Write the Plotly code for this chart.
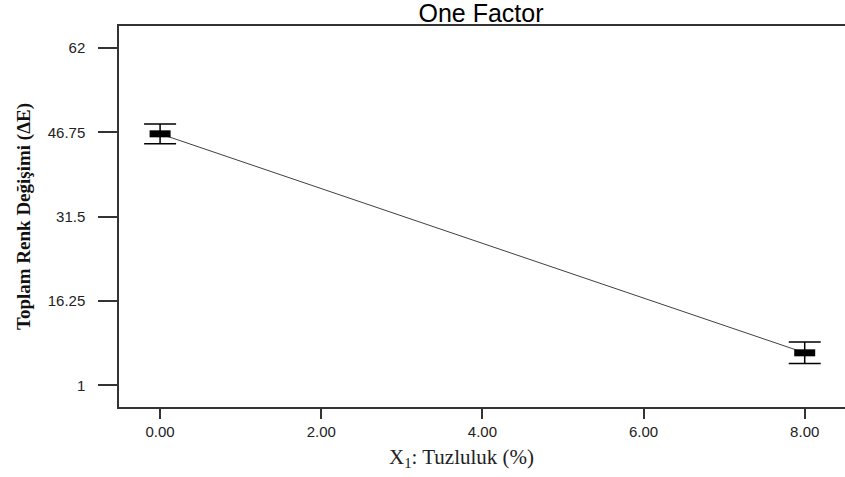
import plotly.graph_objects as go

# Data
x_vals = [0, 8]
y_vals = [46.5, 6.9]
y_err = [1.8, 1.95]
x_ticks = [0, 2, 4, 6, 8]
x_tick_labels = ["0.00", "2.00", "4.00", "6.00", "8.00"]
y_ticks = [1, 16.25, 31.5, 46.75, 62]
y_tick_labels = ["1", "16.25", "31.5", "46.75", "62"]

fig = go.Figure()
# connecting line
fig.add_trace(go.Scatter(x=x_vals, y=y_vals, mode="lines",
                         line=dict(color="#404040", width=1), hoverinfo="skip",
                         showlegend=False))
# error bars + rectangle markers
fig.add_trace(go.Scatter(x=x_vals, y=y_vals, mode="markers",
                         marker=dict(symbol="line-ew", size=15,
                                     line=dict(color="black", width=7), color="black"),
                         error_y=dict(type="data", array=y_err, visible=True,
                                      color="black", thickness=1.5, width=16),
                         showlegend=False))

fig.update_layout(
    width=845, height=477,
    margin=dict(l=119, r=0, t=26, b=70, autoexpand=False),
    paper_bgcolor="white", plot_bgcolor="white",
    title=dict(text="One Factor", x=481 / 845, xanchor="center", y=1 - 13 / 477, yanchor="middle",
               font=dict(family="Liberation Sans, Arial", size=25, color="black")),
    font=dict(family="Liberation Sans, Arial", size=15, color="#222222"),
    xaxis=dict(range=[-0.51, 8.5], tickvals=x_ticks, ticktext=x_tick_labels,
               showgrid=False, zeroline=False, showline=True, linecolor="#333333",
               linewidth=1.5, mirror=True, ticks="outside", ticklen=10,
               tickcolor="#333333", tickwidth=1.5, automargin=False,
               ticklabelstandoff=0),
    yaxis=dict(range=[-2.9, 66.0], tickvals=y_ticks, ticktext=y_tick_labels,
               showgrid=False, zeroline=False, showline=True, linecolor="#333333",
               linewidth=1.5, ticks="outside", ticklen=19, tickcolor="#333333",
               tickwidth=1.5, automargin=False, ticklabelstandoff=10),
    annotations=[
        dict(text="X<sub>1</sub>: Tuzluluk (%)", xref="paper", yref="paper",
             x=(461 - 119) / (845 - 119), y=-(458 - 407) / (407 - 26),
             xanchor="center", yanchor="middle", showarrow=False,
             font=dict(family="Liberation Serif, Times New Roman", size=21, color="#222222")),
        dict(text="<b>Toplam Renk Değişimi (ΔE)</b>", xref="paper", yref="paper",
             x=-(119 - 24) / (845 - 119), y=(407 - 217) / (407 - 26),
             xanchor="center", yanchor="middle",
             textangle=-90, showarrow=False,
             font=dict(family="Liberation Serif, Times New Roman", size=19, color="#111111")),
    ],
)

fig.write_html("out.html", config={"displayModeBar": False},
               post_script="document.body.style.margin='0';document.body.style.overflow='hidden';")
